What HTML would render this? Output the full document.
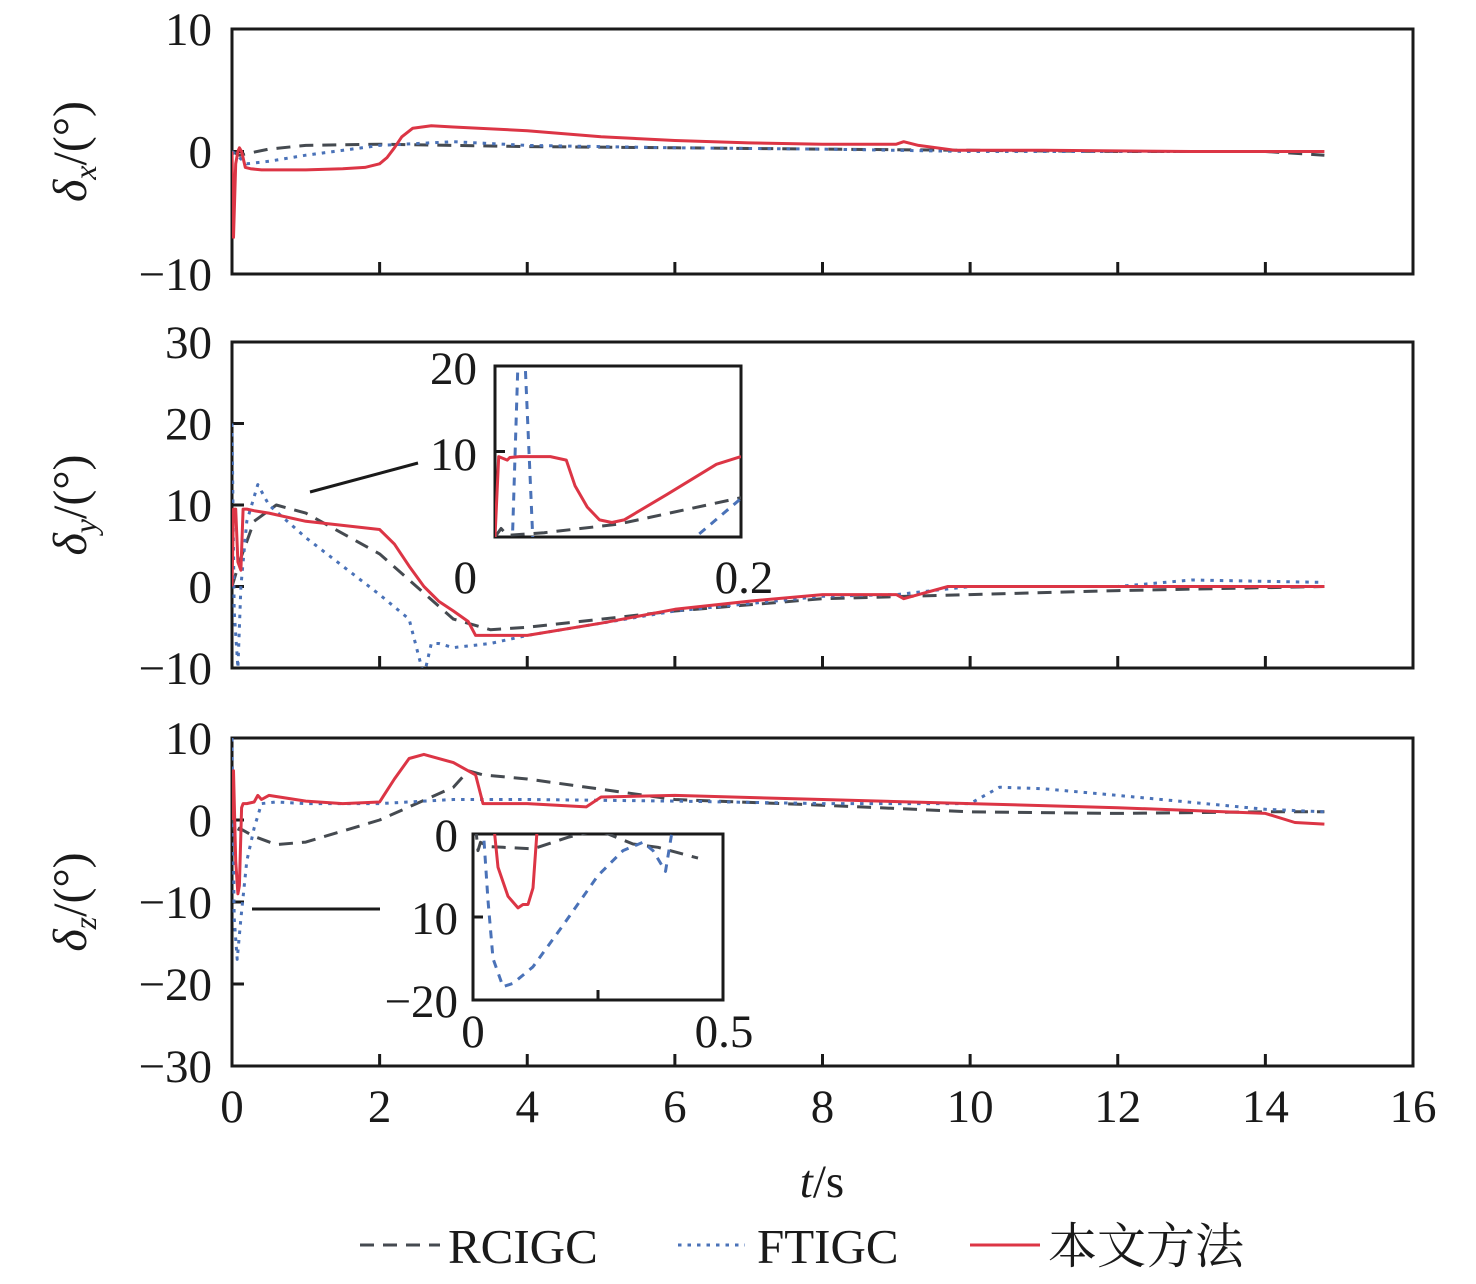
<!DOCTYPE html>
<html><head><meta charset="utf-8"><style>
html,body{margin:0;padding:0;background:#fff;}
svg text{font-family:"Liberation Serif","Noto Serif CJK SC",serif;fill:#1a1a1a;}
</style></head><body>
<svg id="chart" width="1476" height="1279" viewBox="0 0 1476 1279" xmlns="http://www.w3.org/2000/svg">
<defs>
<clipPath id="cp1"><rect x="232" y="29" width="1181" height="245"/></clipPath>
<clipPath id="cp2"><rect x="232" y="342" width="1181" height="326"/></clipPath>
<clipPath id="cp3"><rect x="232" y="738" width="1181" height="328"/></clipPath>
<clipPath id="ci2"><rect x="495" y="366" width="246" height="171"/></clipPath>
<clipPath id="ci3"><rect x="473" y="834" width="250" height="166"/></clipPath>
</defs>
<g id="layer"></g>
</svg>
<script>
// ---- data ----
const xTicks=[0,2,4,6,8,10,12,14,16];
const seriesNames=["RCIGC","FTIGC","本文方法"];
// Panel 1 (delta_x)
const p1RedT=[0,0.02,0.05,0.08,0.1,0.13,0.18,0.25,0.4,1,1.5,1.8,2.0,2.1,2.2,2.3,2.45,2.7,3,4,5,6,7,8,9,9.1,9.3,9.8,11,13,14.8];
const p1RedV=[0,-7,-1,0,0.3,0,-1.3,-1.4,-1.5,-1.5,-1.4,-1.3,-1.0,-0.5,0.3,1.2,1.9,2.1,2.0,1.7,1.2,0.9,0.7,0.6,0.6,0.8,0.5,0.1,0.1,0.0,0];
const p1DashT=[0,0.1,0.5,1,2,3,4,6,8,10,12,14,14.8];
const p1DashV=[0,-0.3,0.2,0.5,0.6,0.5,0.4,0.3,0.2,0.1,0,0,-0.3];
const p1DotT=[0,0.2,0.5,1,2,3,4,6,8,10,12,14,14.8];
const p1DotV=[0,-1,-0.8,-0.3,0.5,0.8,0.5,0.3,0.2,0,0,0,0];
// Panel 2 (delta_y)
const p2RedT=[0,0.02,0.05,0.08,0.12,0.15,0.2,0.3,0.5,1,1.5,2,2.2,2.4,2.6,2.8,3,3.2,3.3,3.4,3.5,4,5,6,7,8,9,9.1,9.3,9.7,10,12,14.8];
const p2RedV=[0,9.5,9.5,3,2,9.5,9.5,9.3,9,8,7.5,7,5.2,2.5,0,-1.8,-3,-4.3,-6,-6,-6,-6,-4.5,-2.8,-1.8,-1,-1,-1.5,-1,0,0,0,0];
const p2DashT=[0,0.1,0.3,0.6,1,2,2.5,3,3.5,4,6,8,10,12,14.8];
const p2DashV=[0,3,8,10,9,4,0,-4,-5.3,-5,-3,-1.5,-1,-0.5,0];
const p2DotT=[0,0.03,0.08,0.12,0.2,0.35,0.5,1,2,2.4,2.6,2.7,2.8,3,3.5,4,6,8,9,10,12,13,14.8];
const p2DotV=[20,-3,-10,0,8,12.5,10,6,-1,-4,-11,-7,-7,-7.5,-7,-6,-3,-1.2,-1,0,0,0.8,0.5];
// Inset 2
const i2RedT=[0,0.003,0.01,0.012,0.02,0.045,0.058,0.065,0.075,0.085,0.095,0.105,0.14,0.18,0.2];
const i2RedV=[0,9.4,9,9.3,9.4,9.4,9,6,3.5,2,1.7,2,5,8.5,9.4];
const i2DashT=[0,0.005,0.01,0.04,0.1,0.2];
const i2DashV=[0,1,0.2,0.5,1.5,4.6];
const i2DotT=[0.014,0.019,0.024,0.031,0.155,0.2];
const i2DotV=[-1,22,22,-1,-1,4.5];
// Panel 3 (delta_z)
const p3RedT=[0,0.02,0.05,0.08,0.1,0.13,0.15,0.2,0.3,0.35,0.4,0.5,1,1.5,2,2.2,2.4,2.6,3,3.2,3.3,3.4,3.5,4,4.8,5,6,8,10,12,14,14.4,14.8];
const p3RedV=[0,6,-5,-9,-8,1.5,2,2,2.2,3,2.5,3,2.3,2,2.2,5,7.5,8,7,6,5.5,2,2,2,1.6,2.8,3,2.5,2,1.5,0.8,-0.3,-0.5];
const p3DashT=[0,0.05,0.1,0.3,0.6,1,2,2.5,3,3.2,3.4,4,6,8,10,12,14,14.8];
const p3DashV=[0,-2,-1,-2,-3,-2.7,0,2,4,6,5.5,5,2.5,1.8,1,0.8,1,1];
const p3DotT=[0,0.03,0.07,0.12,0.2,0.3,0.4,0.6,1,2,3,4,6,8,10,10.4,11,12,14,14.8];
const p3DotV=[10,-12,-17,-12,-5,-1,2,2.2,2,2,2.5,2.5,2.3,2,2,4,3.8,3,1.3,1];
// Inset 3
const i3RedT=[0.04,0.05,0.07,0.09,0.1,0.11,0.12,0.13];
const i3RedV=[2,-4,-7.5,-8.9,-8.5,-8.5,-6.5,2];
const i3DotT=[0.02,0.03,0.04,0.06,0.08,0.12,0.18,0.25,0.3,0.34,0.36,0.385,0.4];
const i3DotV=[1,-8,-15,-18.4,-18,-16,-11,-5,-2,-1,-2,-4.5,1];
const i3DashT=[0.005,0.01,0.015,0.03,0.06,0.12,0.19,0.25,0.32,0.37,0.45];
const i3DashV=[1,-2,-1,-1.5,-1.6,-1.8,-0.4,0.5,-1.2,-1.6,-2.9];

// ---- drawing ----
const NS="http://www.w3.org/2000/svg";
const layer=document.getElementById('layer');
function mk(tag,attrs,parent){const e=document.createElementNS(NS,tag);for(const k in attrs)e.setAttribute(k,attrs[k]);(parent||layer).appendChild(e);return e;}
function lin(d0,d1,r0,r1){return v=>r0+(v-d0)/(d1-d0)*(r1-r0);}
const X=lin(0,16,232,1413);
const styles={
  dash:{stroke:'#454a50','stroke-width':3,'stroke-dasharray':'14 9'},
  dot:{stroke:'#4a72b8','stroke-width':3,'stroke-dasharray':'3.5 6'},
  red:{stroke:'#dc3545','stroke-width':3}
};
function series(ts,vs,xf,yf,st,clip,name){
  const pts=ts.map((t,i)=>xf(t).toFixed(1)+','+yf(vs[i]).toFixed(1)).join(' ');
  const p=mk('polyline',Object.assign({points:pts,fill:'none','clip-path':'url(#'+clip+')','stroke-linejoin':'round'},st));
  
  
}
function txt(x,y,s,size,anchor,name){const t=mk('text',{x:x,y:y,'font-size':size,'text-anchor':anchor||'middle'});t.textContent=s;
  
  return t;}
function panel(top,bot,yMin,yMax,yTicks,clip,idx,sub){
  const Y=lin(yMin,yMax,bot,top);
  const r=mk('rect',{x:232,y:top,width:1181,height:bot-top,fill:'none',stroke:'#1a1a1a','stroke-width':3});
  
  
  xTicks.slice(1,-1).forEach(t=>mk('line',{x1:X(t),x2:X(t),y1:bot,y2:bot-12,stroke:'#1a1a1a','stroke-width':3}));
  yTicks.forEach(v=>{
    if(v!==yMin&&v!==yMax)mk('line',{x1:232,x2:244,y1:Y(v),y2:Y(v),stroke:'#1a1a1a','stroke-width':3});
    txt(212,Y(v)+16,(v<0?'\u2212':'')+Math.abs(v),47,'end','y-tick-label-'+idx);
  });
  const g=mk('text',{transform:'translate(86,'+((top+bot)/2)+') rotate(-90)','font-size':48,'text-anchor':'middle'});
  
  
  g.innerHTML='<tspan font-style="italic">δ</tspan><tspan font-style="italic" font-size="32" dy="10">'+sub+'</tspan><tspan dy="-10">/(°)</tspan>';
  return Y;
}
const Y1=panel(29,274,-10,10,[10,0,-10],'cp1',1,'x');
series(p1DashT,p1DashV,X,Y1,styles.dash,'cp1','rcigc-line-x');
series(p1DotT,p1DotV,X,Y1,styles.dot,'cp1','ftigc-line-x');
series(p1RedT,p1RedV,X,Y1,styles.red,'cp1','proposed-line-x');

const Y2=panel(342,668,-10,30,[30,20,10,0,-10],'cp2',2,'y');
series(p2DashT,p2DashV,X,Y2,styles.dash,'cp2','rcigc-line-y');
series(p2DotT,p2DotV,X,Y2,styles.dot,'cp2','ftigc-line-y');
series(p2RedT,p2RedV,X,Y2,styles.red,'cp2','proposed-line-y');

const Y3=panel(738,1066,-30,10,[10,0,-10,-20,-30],'cp3',3,'z');
series(p3DashT,p3DashV,X,Y3,styles.dash,'cp3','rcigc-line-z');
series(p3DotT,p3DotV,X,Y3,styles.dot,'cp3','ftigc-line-z');
series(p3RedT,p3RedV,X,Y3,styles.red,'cp3','proposed-line-z');

// Inset 2
const XI2=lin(0,0.2,495,741), YI2=lin(0,20,537,366);
mk('rect',{x:495,y:366,width:246,height:171,fill:'#fff',stroke:'#1a1a1a','stroke-width':3});
mk('line',{x1:495,x2:505,y1:YI2(10),y2:YI2(10),stroke:'#1a1a1a','stroke-width':3});
series(i2DashT,i2DashV,XI2,YI2,styles.dash,'ci2','inset-y-rcigc');
series(i2DotT,i2DotV,XI2,YI2,{stroke:'#4a72b8','stroke-width':3,'stroke-dasharray':'8 7'},'ci2','inset-y-ftigc');
series(i2RedT,i2RedV,XI2,YI2,styles.red,'ci2','inset-y-proposed');
txt(477,384,'20',47,'end','inset-y-tick');
txt(477,470,'10',47,'end','inset-y-tick');
txt(477,593,'0',47,'end','inset-x-tick');
txt(744,593,'0.2',47,'middle','inset-x-tick');
mk('line',{x1:310,y1:492,x2:418,y2:463,stroke:'#1a1a1a','stroke-width':3});

// Inset 3
const XI3=lin(0,0.5,473,723), YI3=lin(-20,0,1000,834);
mk('rect',{x:473,y:834,width:250,height:166,fill:'#fff',stroke:'#1a1a1a','stroke-width':3});
mk('line',{x1:473,x2:483,y1:YI3(-10),y2:YI3(-10),stroke:'#1a1a1a','stroke-width':3});
mk('line',{x1:XI3(0.25),x2:XI3(0.25),y1:1000,y2:990,stroke:'#1a1a1a','stroke-width':3});
series(i3DashT,i3DashV,XI3,YI3,styles.dash,'ci3','inset-z-rcigc');
series(i3DotT,i3DotV,XI3,YI3,{stroke:'#4a72b8','stroke-width':3,'stroke-dasharray':'8 7'},'ci3','inset-z-ftigc');
series(i3RedT,i3RedV,XI3,YI3,styles.red,'ci3','inset-z-proposed');
txt(458,851,'0',47,'end','inset-z-tick');
txt(458,934,'10',47,'end','inset-z-tick');
txt(458,1017,'\u221220',47,'end','inset-z-tick');
txt(473,1047,'0',47,'middle','inset-z-xtick');
txt(724,1047,'0.5',47,'middle','inset-z-xtick');
mk('line',{x1:252,y1:909,x2:380,y2:909,stroke:'#1a1a1a','stroke-width':3});

// X axis labels
xTicks.forEach(t=>txt(X(t),1122,String(t),47,'middle','x-tick-label'));
const xt=mk('text',{x:822,y:1197,'font-size':47,'text-anchor':'middle'});


xt.innerHTML='<tspan font-style="italic">t</tspan>/s';

// Legend
const legX=[360,678,970], legTX=[448,757,1048], legSt=[styles.dash,styles.dot,styles.red], legLen=[80,67,70];
seriesNames.forEach((n,i)=>{
  const l=mk('line',Object.assign({x1:legX[i],x2:legX[i]+legLen[i],y1:1245,y2:1245},legSt[i]));
  
  
  txt(legTX[i],1263,n,49,'start','legend-entry-'+i);
});
</script>
</body></html>
